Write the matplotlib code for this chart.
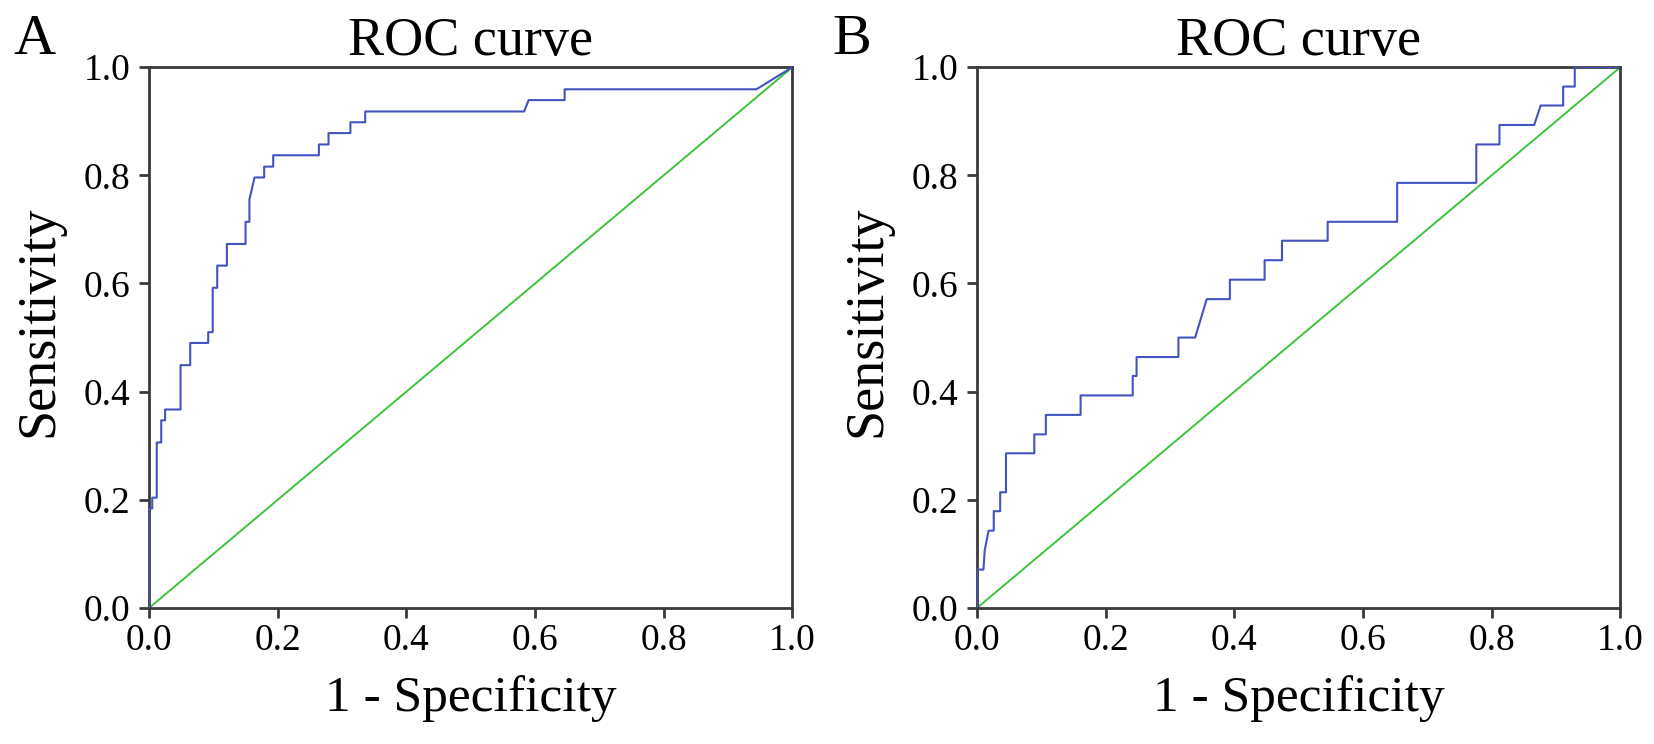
import matplotlib
matplotlib.use("Agg")
import matplotlib.pyplot as plt

plt.rcParams['font.family'] = ['Liberation Serif', 'DejaVu Serif']

# ROC curve vertices (1 - specificity, sensitivity)
fpr_a = [0, 0, 0.005, 0.005, 0.012, 0.012, 0.019, 0.019, 0.025, 0.025,
         0.049, 0.049, 0.064, 0.064, 0.092, 0.092, 0.099, 0.099, 0.106, 0.106,
         0.121, 0.121, 0.150, 0.150, 0.156, 0.156, 0.164, 0.179, 0.179, 0.193,
         0.193, 0.264, 0.264, 0.279, 0.279, 0.313, 0.313, 0.336, 0.336, 0.583,
         0.590, 0.646, 0.646, 0.944, 1.0]
tpr_a = [0, 0.184, 0.184, 0.204, 0.204, 0.306, 0.306, 0.347, 0.347, 0.367,
         0.367, 0.449, 0.449, 0.490, 0.490, 0.510, 0.510, 0.592, 0.592, 0.633,
         0.633, 0.673, 0.673, 0.714, 0.714, 0.755, 0.796, 0.796, 0.816, 0.816,
         0.837, 0.837, 0.857, 0.857, 0.878, 0.878, 0.898, 0.898, 0.918, 0.918,
         0.939, 0.939, 0.959, 0.959, 1.0]

fpr_b = [0, 0, 0.010, 0.012, 0.018, 0.026, 0.026, 0.036, 0.036, 0.045,
         0.045, 0.089, 0.089, 0.107, 0.107, 0.161, 0.161, 0.242, 0.242, 0.248,
         0.248, 0.313, 0.313, 0.339, 0.357, 0.393, 0.393, 0.447, 0.447, 0.474,
         0.474, 0.545, 0.545, 0.653, 0.653, 0.776, 0.776, 0.812, 0.812, 0.866,
         0.876, 0.911, 0.911, 0.929, 0.929, 1.0]
tpr_b = [0, 0.071, 0.071, 0.107, 0.143, 0.143, 0.179, 0.179, 0.214, 0.214,
         0.286, 0.286, 0.321, 0.321, 0.357, 0.357, 0.393, 0.393, 0.429, 0.429,
         0.464, 0.464, 0.500, 0.500, 0.571, 0.571, 0.607, 0.607, 0.643, 0.643,
         0.679, 0.679, 0.714, 0.714, 0.786, 0.786, 0.857, 0.857, 0.893, 0.893,
         0.929, 0.929, 0.964, 0.964, 1.0, 1.0]

ref_line = [0, 1]
ticks = [0.0, 0.2, 0.4, 0.6, 0.8, 1.0]
panels = [("A", fpr_a, tpr_a), ("B", fpr_b, tpr_b)]

fig = plt.figure(figsize=(16.54, 7.44), dpi=100)
lefts = [0.0901, 0.5907]
letter_x = [0.008, 0.503]

for i, (letter, fx, ty) in enumerate(panels):
    ax = fig.add_axes([lefts[i], 0.1828, 0.389, 0.727])
    ax.plot(ref_line, ref_line, color='#3cc43c', lw=1.4, zorder=2)
    ax.plot(fx, ty, color='#4353c2', lw=1.5, zorder=3)
    ax.set_xlim(0, 1)
    ax.set_ylim(0, 1)
    ax.set_xticks(ticks)
    ax.set_yticks(ticks)
    ax.set_xticklabels(["%.1f" % t for t in ticks])
    ax.set_yticklabels(["%.1f" % t for t in ticks])
    for s in ax.spines.values():
        s.set_linewidth(2.0)
        s.set_color('#3a3a3a')
    ax.tick_params(direction='out', length=7, width=2.0, color='#3a3a3a',
                   labelsize=27)
    ax.tick_params(axis='x', pad=4.5)
    ax.tick_params(axis='y', pad=6.5)
    ax.set_title("ROC curve", fontsize=39, pad=7)
    ax.set_xlabel("1 - Specificity", fontsize=37)
    ax.set_ylabel("Sensitivity", fontsize=39)
    ax.xaxis.set_label_coords(0.5, -0.124)
    ax.yaxis.set_label_coords(-0.131, 0.53)
    fig.text(letter_x[i], 0.928, letter, fontsize=42, va='baseline')

fig.savefig("out.png", dpi=100)
